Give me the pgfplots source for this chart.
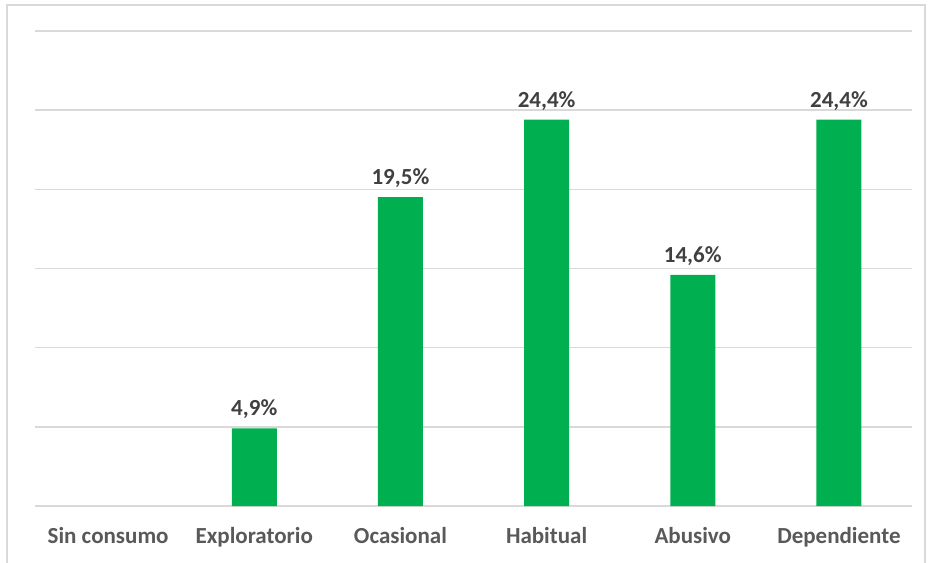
\documentclass[border=0pt]{standalone}
\usepackage{fontspec}
\setmainfont{Carlito}
\usepackage{pgfplots}
\pgfplotsset{compat=1.18}
\definecolor{gridgray}{HTML}{D9D9D9}
\definecolor{barcol}{HTML}{00B050}
\definecolor{ticktxt}{HTML}{595959}
\definecolor{lbltxt}{HTML}{404040}
\begin{document}
\begin{tikzpicture}
\useasboundingbox (-35bp,-57bp) rectangle (893bp,506bp);
\draw[gridgray, line width=1.5bp] (-28bp,-70bp) -- (-28bp,501bp) -- (890bp,501bp) -- (890bp,-70bp);
\begin{axis}[
  scale only axis,
  width=877bp, height=475bp,
  xmin=-0.5, xmax=5.5,
  ymin=0, ymax=30,
  ytick={0,5,...,30},
  yticklabels={},
  xmajorgrids=false,
  ymajorgrids=true,
  y grid style={draw=gridgray, line width=1.5bp},
  major tick length=0pt,
  axis line style={draw=none},
  xtick={0,...,5},
  xticklabels={Sin consumo,Exploratorio,Ocasional,Habitual,Abusivo,Dependiente},
  xticklabel style={font=\fontsize{23bp}{26bp}\selectfont\bfseries, text=ticktxt, yshift=-18bp},
  clip=false,
]
\draw[gridgray, line width=1.5bp] (rel axis cs:0,0) -- (rel axis cs:1,0);
\addplot[ybar, bar width=45bp, fill=barcol, draw=none,
  point meta=explicit symbolic,
  nodes near coords,
  nodes near coords style={font=\fontsize{23bp}{26bp}\selectfont\bfseries, text=lbltxt, yshift=6bp}]
  table[meta=lab] {
x y lab
1 4.9 {4,9\%}
2 19.5 {19,5\%}
3 24.4 {24,4\%}
4 14.6 {14,6\%}
5 24.4 {24,4\%}
};
\end{axis}
\end{tikzpicture}
\end{document}
